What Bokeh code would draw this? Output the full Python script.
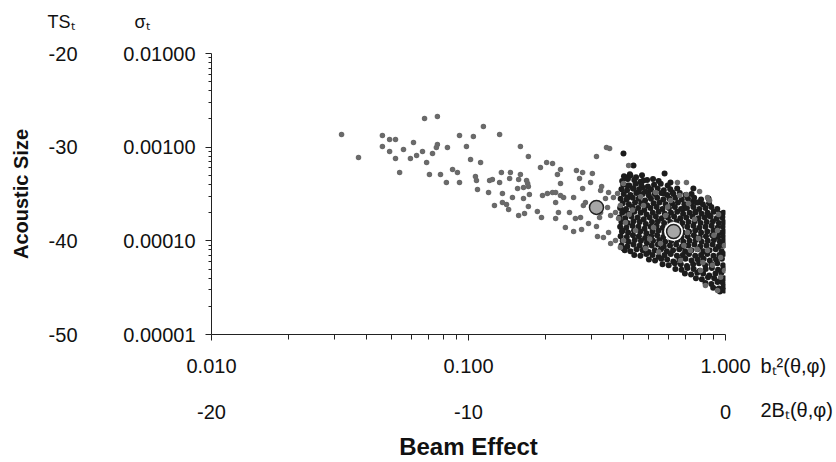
import numpy as np
from bokeh.plotting import figure
from bokeh.models import (Range1d, LinearScale, LinearAxis, FixedTicker,
                          CustomJSTickFormatter, Label)
from bokeh.embed import file_html
from bokeh.resources import INLINE

# ---------------- data (in dB) ----------------
# 2B_t(theta,phi) in dB  (b_t^2 = 10**(2B/10)),  TS_t in dB (sigma_t = 10**(TS/10))
gray_b2dB = [-14.94, -14.28, -13.35, -13.07, -12.84, -13.35, -13.07, -12.53, -12.14, -11.71,
             -12.84, -12.68, -12.26, -12.02, -11.79, -11.63, -11.52, -11.21, -9.42, -10.35,
             -9.81, -8.79, -11.21, -11.25, -10.82, -10.08, -11.40, -7.98, -9.92, -9.53,
             -7.67, -10.62, -10.43, -11.09, -10.86, -10.35, -9.73, -9.69, -9.65, -9.18,
             -9.07, -8.79, -8.72, -8.37, -8.40, -7.98, -8.05, -7.74, -7.86, -8.09,
             -7.67, -9.22, -8.68, -8.29, -7.86, -8.68, -8.52, -8.99, -8.44, -7.67,
             -8.05, -7.82, -4.63, -4.51, -5.02, -6.96, -6.73, -7.20, -6.42, -6.54,
             -5.80, -5.56, -5.18, -5.68, -6.42, -5.25, -4.82, -7.70, -7.63, -7.12,
             -6.93, -6.73, -6.61, -6.42, -6.30, -6.61, -5.91, -5.56, -5.45, -5.53,
             -4.86, -4.55, -4.20, -4.67, -4.36, -7.32, -7.16, -6.61, -6.50, -6.07,
             -5.84, -5.64, -6.23, -5.91, -5.60, -5.33, -5.02, -4.90, -4.86, -4.59,
             -4.47, -4.28, -4.16, -4.09, -4.98, -4.75, -4.55, -4.47, -4.28, -4.09,
             -3.97, -3.77, -3.97, -1.87, -1.52, -1.01, -2.72, -1.79, -1.52, -1.44,
             -0.70, -0.62, -0.27, -3.89, -3.50, -2.80, -2.53, -1.48, -1.05, -0.70,
             -0.31, -0.19, -1.75, -0.97, -0.19, -3.11, -0.31, -0.78, -3.19, -2.33,
             -1.36, -0.51, -0.04, -0.04, -2.14, -3.62, -2.95, -2.05, -1.20, -0.45,
             -3.30, -2.60, -1.62, -0.88, -3.75, -2.25, -1.10]
gray_ts = [-28.64, -31.10, -28.75, -29.18, -29.18, -29.93, -30.46, -30.25, -29.50, -26.94,
           -31.21, -32.70, -31.21, -30.89, -30.46, -31.63, -32.91, -26.72, -27.79, -28.75,
           -28.86, -28.64, -29.71, -30.03, -30.03, -29.93, -30.67, -29.93, -31.31, -31.63,
           -30.99, -32.38, -32.70, -32.91, -33.77, -33.77, -33.13, -33.55, -34.51, -33.55,
           -33.45, -33.77, -32.70, -32.70, -33.34, -32.91, -33.45, -33.55, -34.30, -34.41,
           -34.19, -34.83, -34.94, -35.37, -35.47, -35.90, -36.11, -36.22, -36.65, -36.33,
           -37.29, -37.08, -30.03, -30.14, -30.99, -31.63, -31.74, -32.17, -32.38, -32.91,
           -32.49, -32.70, -32.81, -33.34, -33.87, -33.77, -34.19, -33.87, -35.05, -35.15,
           -34.94, -34.83, -34.83, -35.15, -35.37, -35.90, -35.37, -34.41, -35.90, -36.22,
           -34.62, -34.83, -34.94, -35.47, -35.37, -36.86, -37.50, -37.61, -36.97, -36.97,
           -37.61, -37.50, -38.57, -39.00, -38.78, -38.14, -38.46, -37.50, -36.97, -36.43,
           -37.29, -36.97, -37.61, -36.22, -39.53, -39.64, -39.10, -40.28, -39.96, -40.70,
           -39.96, -31.95, -33.87, -33.77, -33.77, -34.73, -34.83, -35.15, -35.05, -36.01,
           -35.37, -35.69, -37.18, -38.04, -38.89, -38.57, -40.28, -39.10, -39.74, -41.02,
           -38.89, -41.77, -42.09, -43.16, -43.90, -40.81, -45.29, -44.76, -36.22, -37.29,
           -41.02, -42.62, -40.49, -43.16, -35.69, -36.70, -39.80, -38.20, -37.70, -39.40,
           -35.30, -41.20, -40.50, -42.30, -37.20, -36.40, -40.90]

black_b2dB = [
    -3.97, -3.58, -2.37, -2.14, -1.25, -0.66, -3.81, -3.19, -3.70, -0.12, -0.62, -1.17, -1.63, -1.05,
    -1.25, -2.41, -2.06, -3.00, -3.39, -3.23, -3.58, -3.85, -3.81, -3.81, -3.93, -4.01, -3.85, -3.97,
    -3.95, -3.72, -3.48, -3.25,
    -4.02, -3.80, -3.55, -3.31, -3.05, -2.82, -2.60,
    -3.98, -3.74, -3.50, -3.28, -3.02, -2.78, -2.52, -2.25,
    -4.05, -3.83, -3.60, -3.36, -3.12, -2.90, -2.64, -2.40, -2.15, -1.88,
    -3.96, -3.70, -3.47, -3.22, -2.98, -2.75, -2.50, -2.27, -2.03, -1.78, -1.55, -1.32,
    -4.08, -3.85, -3.61, -3.38, -3.13, -2.90, -2.66, -2.42, -2.18, -1.95, -1.70, -1.46, -1.22, -0.95,
    -4.00, -3.76, -3.52, -3.28, -3.05, -2.80, -2.57, -2.33, -2.08, -1.85, -1.60, -1.37, -1.12, -0.88, -0.64,
    -4.10, -3.87, -3.63, -3.40, -3.16, -2.92, -2.68, -2.45, -2.20, -1.97, -1.73, -1.50, -1.25, -1.02, -0.78, -0.55, -0.32,
    -4.02, -3.78, -3.55, -3.30, -3.07, -2.83, -2.60, -2.36, -2.12, -1.88, -1.65, -1.40, -1.17, -0.93, -0.70, -0.46, -0.22, -0.08,
    -4.12, -3.90, -3.66, -3.42, -3.18, -2.95, -2.71, -2.48, -2.24, -2.00, -1.76, -1.53, -1.29, -1.05, -0.81, -0.58, -0.34, -0.12,
    -4.05, -3.81, -3.58, -3.34, -3.10, -2.86, -2.63, -2.39, -2.15, -1.91, -1.68, -1.44, -1.20, -0.97, -0.73, -0.49, -0.26, -0.06,
    -4.10, -3.86, -3.62, -3.39, -3.15, -2.91, -2.68, -2.44, -2.20, -1.96, -1.73, -1.49, -1.25, -1.02, -0.78, -0.54, -0.31, -0.10,
    -4.03, -3.79, -3.56, -3.32, -3.08, -2.84, -2.61, -2.37, -2.13, -1.90, -1.66, -1.42, -1.18, -0.95, -0.71, -0.47, -0.24, -0.07,
    -4.08, -3.84, -3.60, -3.37, -3.13, -2.89, -2.66, -2.42, -2.18, -1.94, -1.71, -1.47, -1.23, -1.00, -0.76, -0.52, -0.29, -0.09,
    -4.00, -3.77, -3.53, -3.29, -3.06, -2.82, -2.58, -2.35, -2.11, -1.87, -1.64, -1.40, -1.16, -0.93, -0.69, -0.45, -0.22, -0.06,
    -4.05, -3.82, -3.58, -3.34, -3.11, -2.87, -2.63, -2.40, -2.16, -1.92, -1.69, -1.45, -1.21, -0.98, -0.74, -0.50, -0.27, -0.08,
    -3.92, -3.70, -3.46, -3.22, -2.99, -2.75, -2.51, -2.28, -2.04, -1.80, -1.57, -1.33, -1.09, -0.86, -0.62, -0.38, -0.15,
    -3.55, -3.31, -3.08, -2.84, -2.60, -2.37, -2.13, -1.89, -1.66, -1.42, -1.18, -0.95, -0.71, -0.47, -0.24, -0.07,
    -2.98, -2.74, -2.50, -2.27, -2.03, -1.79, -1.56, -1.32, -1.08, -0.85, -0.61, -0.37, -0.14,
    -2.45, -2.21, -1.97, -1.74, -1.50, -1.26, -1.03, -0.79, -0.55, -0.32, -0.09,
    -1.95, -1.71, -1.48, -1.24, -1.00, -0.77, -0.53, -0.29, -0.08,
    -1.58, -1.34, -1.10, -0.87, -0.63, -0.39, -0.16,
    -1.15, -0.92, -0.68, -0.44, -0.21, -0.05,
    -0.78, -0.55, -0.31, -0.10,
    -0.48, -0.26, -0.07,
    -0.22, -0.06]
black_ts = [
    -30.67, -31.95, -32.81, -33.77, -34.41, -35.47, -33.34, -33.55, -33.02, -37.39, -37.29, -36.97, -36.54, -35.90,
    -35.79, -34.94, -34.83, -34.83, -34.83, -34.30, -34.41, -33.23, -34.09, -35.37, -36.76, -38.89, -39.96, -40.81,
    -33.1, -32.9, -33.2, -33.0,
    -33.6, -33.4, -33.5, -33.7, -33.5, -33.4, -33.6,
    -34.0, -34.1, -33.9, -34.0, -34.2, -34.0, -33.9, -34.1,
    -34.5, -34.6, -34.4, -34.5, -34.7, -34.5, -34.4, -34.6, -34.5, -34.4,
    -35.0, -35.1, -34.9, -35.0, -35.2, -35.0, -34.9, -35.1, -35.0, -34.9, -35.1, -35.0,
    -35.5, -35.6, -35.4, -35.5, -35.7, -35.5, -35.4, -35.6, -35.5, -35.4, -35.6, -35.5, -35.4, -35.6,
    -36.0, -36.1, -35.9, -36.0, -36.2, -36.0, -35.9, -36.1, -36.0, -35.9, -36.1, -36.0, -35.9, -36.1, -36.0,
    -36.5, -36.6, -36.4, -36.5, -36.7, -36.5, -36.4, -36.6, -36.5, -36.4, -36.6, -36.5, -36.4, -36.6, -36.5, -36.4, -36.6,
    -37.0, -37.1, -36.9, -37.0, -37.2, -37.0, -36.9, -37.1, -37.0, -36.9, -37.1, -37.0, -36.9, -37.1, -37.0, -36.9, -37.1, -37.0,
    -37.5, -37.6, -37.4, -37.5, -37.7, -37.5, -37.4, -37.6, -37.5, -37.4, -37.6, -37.5, -37.4, -37.6, -37.5, -37.4, -37.6, -37.5,
    -38.0, -38.1, -37.9, -38.0, -38.2, -38.0, -37.9, -38.1, -38.0, -37.9, -38.1, -38.0, -37.9, -38.1, -38.0, -37.9, -38.1, -38.0,
    -38.5, -38.6, -38.4, -38.5, -38.7, -38.5, -38.4, -38.6, -38.5, -38.4, -38.6, -38.5, -38.4, -38.6, -38.5, -38.4, -38.6, -38.5,
    -39.0, -39.1, -38.9, -39.0, -39.2, -39.0, -38.9, -39.1, -39.0, -38.9, -39.1, -39.0, -38.9, -39.1, -39.0, -38.9, -39.1, -39.0,
    -39.5, -39.6, -39.4, -39.5, -39.7, -39.5, -39.4, -39.6, -39.5, -39.4, -39.6, -39.5, -39.4, -39.6, -39.5, -39.4, -39.6, -39.5,
    -40.0, -40.1, -39.9, -40.0, -40.2, -40.0, -39.9, -40.1, -40.0, -39.9, -40.1, -40.0, -39.9, -40.1, -40.0, -39.9, -40.1, -40.0,
    -40.5, -40.6, -40.4, -40.5, -40.7, -40.5, -40.4, -40.6, -40.5, -40.4, -40.6, -40.5, -40.4, -40.6, -40.5, -40.4, -40.6, -40.5,
    -41.0, -41.1, -40.9, -41.0, -41.2, -41.0, -40.9, -41.1, -41.0, -40.9, -41.1, -41.0, -40.9, -41.1, -41.0, -40.9, -41.1,
    -41.5, -41.6, -41.4, -41.5, -41.7, -41.5, -41.4, -41.6, -41.5, -41.4, -41.6, -41.5, -41.4, -41.6, -41.5, -41.4,
    -42.0, -42.1, -41.9, -42.0, -42.2, -42.0, -41.9, -42.1, -42.0, -41.9, -42.1, -42.0, -41.9,
    -42.5, -42.6, -42.4, -42.5, -42.7, -42.5, -42.4, -42.6, -42.5, -42.4, -42.6,
    -43.0, -43.1, -42.9, -43.0, -43.2, -43.0, -42.9, -43.1, -43.0,
    -43.5, -43.6, -43.4, -43.5, -43.7, -43.5, -43.4,
    -44.0, -44.1, -43.9, -44.0, -44.2, -44.0,
    -44.5, -44.6, -44.4, -44.5,
    -45.0, -45.1, -44.9,
    -45.4, -45.3]

mean_b2dB = [-5.02, -2.02]
mean_ts = [-36.43, -39.00]

sigma_ticks = [1e-5, 1e-4, 1e-3, 1e-2]
b2_ticks = [0.01, 0.1, 1.0]
ts_ticks = [-50, -40, -30, -20]
db_ticks = [-20, -10, 0]

NB = "\u00a0"
header_text = "TS\u209c" + NB * 12 + "\u03c3\u209c"
right_text = "b\u209c\u00b2(\u03b8,\u03c6)\n\n2B\u209c(\u03b8,\u03c6)"

FONT = "Liberation Sans"

def lin(v):
    return 10 ** (np.asarray(v, dtype=float) / 10.0)

p = figure(width=836, height=462, x_axis_type="log", y_axis_type="log",
           x_range=Range1d(0.01, 1.0), y_range=Range1d(1e-5, 1e-2),
           output_backend="svg", toolbar_location=None,
           min_border_left=211, min_border_right=111, min_border_top=53,
           min_border_bottom=128)
p.extra_x_ranges = {"db": Range1d(-20, 0)}
p.extra_x_scales = {"db": LinearScale()}
p.extra_y_ranges = {"ts": Range1d(-50, -20)}
p.extra_y_scales = {"ts": LinearScale()}
p.grid.visible = False
p.outline_line_color = None
p.background_fill_color = "white"
p.border_fill_color = "white"

# main sigma axis
yax = p.yaxis[0]
yax.ticker = FixedTicker(ticks=sigma_ticks,
                         minor_ticks=[m * 10.0 ** e for e in (-5, -4, -3) for m in range(2, 10)])
yax.formatter = CustomJSTickFormatter(code="return tick.toFixed(5);")
yax.axis_line_color = "#222222"
yax.major_tick_line_color = "#222222"
yax.minor_tick_line_color = "#222222"
yax.major_tick_out = 6
yax.major_tick_in = 0
yax.minor_tick_out = 3
yax.minor_tick_in = 0
yax.major_label_text_font = FONT
yax.major_label_text_font_size = "20px"
yax.major_label_text_color = "#111111"
yax.major_label_standoff = 10

ts_ax = LinearAxis(y_range_name="ts", ticker=FixedTicker(ticks=ts_ticks))
ts_ax.formatter = CustomJSTickFormatter(code="return tick.toFixed(0);")
ts_ax.axis_line_color = None
ts_ax.major_tick_line_color = None
ts_ax.minor_tick_line_color = None
ts_ax.major_tick_out = 0
ts_ax.minor_tick_out = 0
ts_ax.major_label_text_font = FONT
ts_ax.major_label_text_font_size = "20px"
ts_ax.major_label_text_color = "#111111"
ts_ax.major_label_standoff = 43
ts_ax.axis_label = "Acoustic Size"
ts_ax.axis_label_text_font = FONT
ts_ax.axis_label_text_font_style = "bold"
ts_ax.axis_label_text_font_size = "20px"
ts_ax.axis_label_text_color = "#111111"
ts_ax.axis_label_standoff = 14
p.add_layout(ts_ax, "left")

# main b^2 axis
xax = p.xaxis[0]
xax.ticker = FixedTicker(ticks=b2_ticks,
                         minor_ticks=[m * 10.0 ** e for e in (-2, -1) for m in range(2, 10)])
xax.formatter = CustomJSTickFormatter(code="return tick.toFixed(3);")
xax.axis_line_color = "#222222"
xax.major_tick_line_color = "#222222"
xax.minor_tick_line_color = "#222222"
xax.major_tick_out = 6
xax.major_tick_in = 0
xax.minor_tick_out = 5
xax.minor_tick_in = 0
xax.major_label_text_font = FONT
xax.major_label_text_font_size = "20px"
xax.major_label_text_color = "#111111"
xax.major_label_standoff = 18

db_ax = LinearAxis(x_range_name="db", ticker=FixedTicker(ticks=db_ticks))
db_ax.formatter = CustomJSTickFormatter(code="return tick.toFixed(0);")
db_ax.axis_line_color = None
db_ax.major_tick_line_color = None
db_ax.minor_tick_line_color = None
db_ax.major_tick_out = 0
db_ax.minor_tick_out = 0
db_ax.major_label_text_font = FONT
db_ax.major_label_text_font_size = "20px"
db_ax.major_label_text_color = "#111111"
db_ax.major_label_standoff = 29
db_ax.axis_label = "Beam Effect"
db_ax.axis_label_text_font = FONT
db_ax.axis_label_text_font_style = "bold"
db_ax.axis_label_text_font_size = "24px"
db_ax.axis_label_text_color = "#111111"
db_ax.axis_label_standoff = 11
p.add_layout(db_ax, "below")

# points
p.scatter(lin(black_b2dB), lin(black_ts), size=6, fill_color="#1c1c1c", line_color=None)
p.scatter(lin(gray_b2dB), lin(gray_ts), size=5.5, fill_color="#6a6a6a", line_color=None)
p.scatter(lin(mean_b2dB[1:]), lin(mean_ts[1:]), size=19, fill_color="white", line_color=None)
p.scatter(lin(mean_b2dB), lin(mean_ts), size=14, fill_color="#a6a6a6",
          line_color="#222222", line_width=1.5)

# headers above the two left scales, and the variable names right of the two x scales
p.add_layout(Label(x=-164, y=31.5, x_units="screen", y_units="screen", text=header_text,
                   text_font=FONT, text_font_size="18px", text_color="#111111",
                   text_baseline="middle", text_align="left"), "above")
p.add_layout(Label(x=35, y=-20.5, x_units="screen", y_units="screen", text=right_text,
                   text_font=FONT, text_font_size="20px", text_color="#111111",
                   text_line_height=1.0, text_baseline="top", text_align="left"), "right")

open("out.html", "w").write(file_html(p, INLINE))
